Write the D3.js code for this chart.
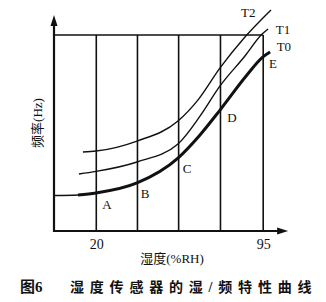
<!DOCTYPE html>
<html><head><meta charset="utf-8">
<script src="https://cdn.jsdelivr.net/npm/d3@7"></script>
<style>
html,body{margin:0;padding:0;background:#fff;}
svg{display:block;}
text{font-family:"Liberation Serif","Noto Sans CJK SC",serif;fill:#111;}
</style></head>
<body>
<script>
// ---- data ----
const gridHumidity = [20, 38.5, 57, 75.8, 95];
const xTickLabels = [20, 95];
const seriesNames = ["T2", "T1", "T0"];
const t2Hum = [14.0, 19.9, 38.3, 56.7, 66.0, 75.6, 86.8, 98.5];
const t2Freq = [40.3, 40.8, 45.9, 56.1, 67.3, 83.2, 99.0, 112.8];
const t1Hum = [12.2, 19.9, 38.3, 56.7, 66.6, 75.6, 86.8, 94.5, 97.2];
const t1Freq = [29.1, 30.4, 35.2, 44.4, 58.6, 74.0, 89.3, 100.5, 103.1];
const t0Hum = [1.0, 11.8, 19.9, 38.3, 56.7, 66.6, 75.6, 87.7, 94.9, 98.1];
const t0Freq = [18.1, 18.4, 19.4, 24.5, 37.2, 49.0, 61.7, 79.6, 88.8, 91.3];
const pointNames = ["A", "B", "C", "D", "E"];
const pointLabelHum = [24.8, 41.9, 60.8, 81.0, 99.4];
const pointLabelFreq = [13.3, 19.4, 32.1, 57.7, 85.7];
const seriesLabelHum = [88.3, 103.9, 104.3];
const seriesLabelFreq = [111.7, 102.6, 94.4];
const xTitle = "湿度(%RH)";
const yTitle = "频率(Hz)";
const captionNo = "图6";
const captionText = "湿度传感器的湿/频特性曲线";

// ---- scales ----
const W = 326, H = 302;
const x = d3.scaleLinear().domain([1, 95]).range([54, 263.2]);
const y = d3.scaleLinear().domain([0, 100]).range([231, 35]);
const xMax = 106.2, yMax = 110.2;

const svg = d3.select("body").append("svg").attr("width", W).attr("height", H);
const ink = "#111";

// grid verticals
svg.append("g").selectAll("line").data(gridHumidity).join("line")
  .attr("x1", d => x(d)).attr("x2", d => x(d))
  .attr("y1", y(0)).attr("y2", y(100))
  .attr("stroke", ink).attr("stroke-width", 1.6);
// top frame line
svg.append("line").attr("x1", x(1)).attr("x2", x(95)).attr("y1", y(100)).attr("y2", y(100))
  .attr("stroke", ink).attr("stroke-width", 1.6);

// x axis
const xAxis = d3.axisBottom(x).tickValues(xTickLabels).tickSize(0).tickPadding(8).tickFormat(d3.format("d"));
const gx = svg.append("g").attr("transform", `translate(0,${y(0)})`).call(xAxis);
gx.select(".domain").remove();
gx.selectAll("text").attr("font-size", 14).attr("font-family", "Liberation Serif").style("fill", ink);
svg.append("line").attr("x1", x(1)).attr("x2", x(xMax) - 6).attr("y1", y(0)).attr("y2", y(0))
  .attr("stroke", ink).attr("stroke-width", 2.2);
svg.append("path").attr("d", `M${x(xMax)},${y(0)} L${x(xMax)-11},${y(0)-3.5} L${x(xMax)-11},${y(0)+3.5} Z`).attr("fill", ink);

// y axis
svg.append("line").attr("x1", x(1)).attr("x2", x(1)).attr("y1", y(0) + 1).attr("y2", y(yMax) + 6)
  .attr("stroke", ink).attr("stroke-width", 2.2);
svg.append("path").attr("d", `M${x(1)},${y(yMax)} L${x(1)-3.5},${y(yMax)+11} L${x(1)+3.5},${y(yMax)+11} Z`).attr("fill", ink);

// curves
const line = d3.line().x(d => x(d[0])).y(d => y(d[1])).curve(d3.curveMonotoneX);
const zip = (a, b) => a.map((v, i) => [v, b[i]]);
const t2 = zip(t2Hum, t2Freq), t1 = zip(t1Hum, t1Freq), t0 = zip(t0Hum, t0Freq);
svg.append("path").attr("d", line(t2)).attr("fill", "none").attr("stroke", ink).attr("stroke-width", 1.4);
svg.append("path").attr("d", line(t1)).attr("fill", "none").attr("stroke", ink).attr("stroke-width", 1.4);
svg.append("path").attr("d", line(t0.slice(0, 3))).attr("fill", "none").attr("stroke", ink).attr("stroke-width", 1.4);
svg.append("path").attr("d", line(t0.slice(1))).attr("fill", "none").attr("stroke", ink).attr("stroke-width", 3);

// point labels
svg.append("g").selectAll("text").data(pointNames).join("text")
  .attr("x", (d, i) => x(pointLabelHum[i])).attr("y", (d, i) => y(pointLabelFreq[i]))
  .attr("dy", "0.35em").attr("text-anchor", "middle").attr("font-size", 13).text(d => d);
// series labels
svg.append("g").selectAll("text").data(seriesNames).join("text")
  .attr("x", (d, i) => x(seriesLabelHum[i])).attr("y", (d, i) => y(seriesLabelFreq[i]))
  .attr("dy", "0.35em").attr("text-anchor", "middle").attr("font-size", 13).text(d => d);

// titles
svg.append("text").attr("x", 172).attr("y", 263).attr("text-anchor", "middle")
  .attr("font-size", 13).text(xTitle);
svg.append("text").attr("transform", "translate(42,123) rotate(-90)").attr("text-anchor", "middle")
  .attr("font-size", 13).text(yTitle);

// caption
svg.append("text").attr("x", 20).attr("y", 292).attr("font-size", 15).attr("font-weight", "bold")
  .attr("font-family", "Noto Sans CJK SC").text(captionNo);
svg.append("text").attr("x", 70).attr("y", 292).attr("font-size", 14).attr("font-weight", "bold")
  .attr("font-family", "Noto Sans CJK SC").attr("letter-spacing", 5.8).text(captionText);
</script>
</body></html>
